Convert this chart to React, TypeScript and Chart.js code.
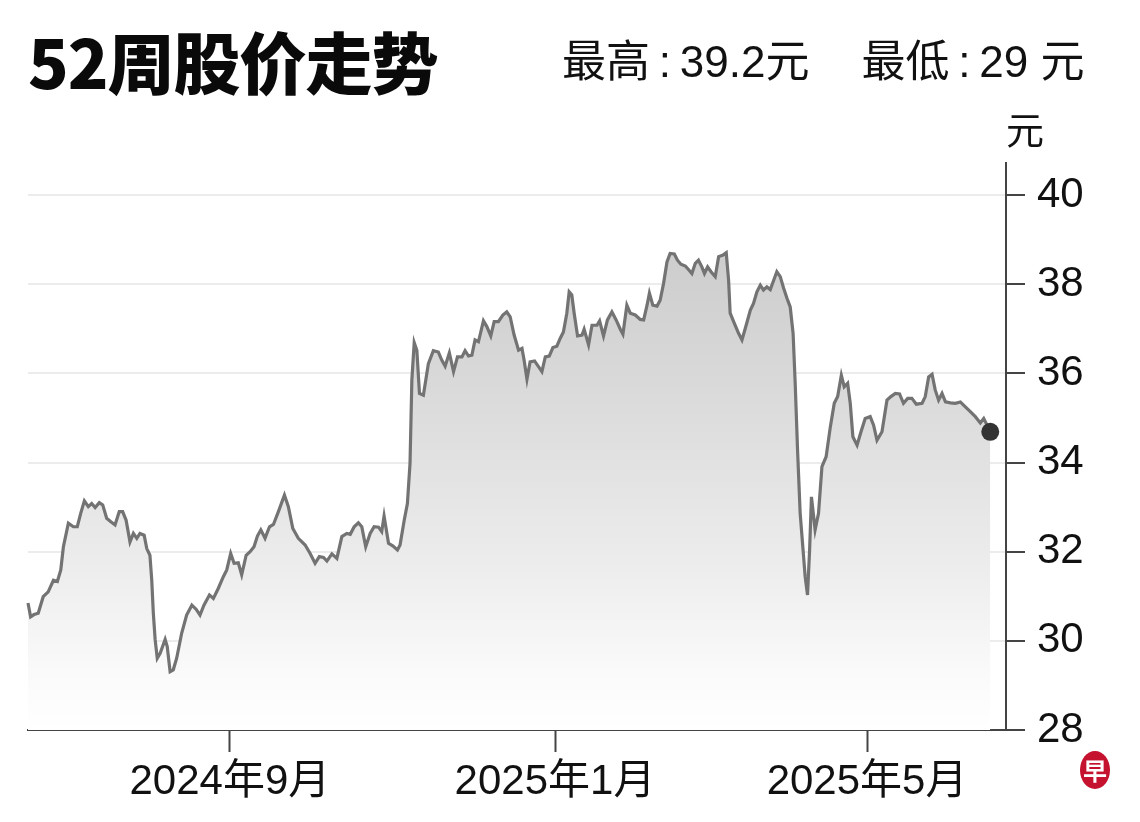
import React, { useEffect, useRef } from "react";
import { Chart, registerables } from "chart.js";

Chart.register(...registerables);

// Days since 2024-06-16 (trading samples) and closing prices (元)
const dayOffsets = [
  0, 1.0, 2.3, 3.9, 5.8, 7.7, 9.7, 11.2, 12.5, 13.5, 15.4, 17.3, 18.8, 20.1, 21.5, 23.0, 24.3, 25.6, 27.2, 28.5,
  30.0, 31.6, 33.2, 34.8, 36.1, 37.4, 38.9, 40.2, 41.5, 42.7, 44.3, 45.3, 46.5, 47.2, 47.8, 48.5, 49.3, 50.4, 52.3, 53.1,
  54.2, 55.4, 56.7, 58.6, 60.5, 62.5, 64.1, 65.6, 67.1, 69.2, 70.7, 72.6,
  74.5, 75.8, 77.3, 78.6, 80.2, 81.5, 83.2, 84.7, 86.2, 87.5, 88.8, 90.4, 92.1, 93.6, 95.5, 97.8, 99.3, 101.0, 103.1,
  105.7, 107.6, 109.5, 111.1, 112.7, 114.0, 115.9, 117.8, 119.7, 121.6, 122.9, 124.4, 126.0, 127.3, 128.8, 130.5, 132.0,
  133.7, 134.9, 135.8, 137.5, 139.1, 140.9, 141.9, 143.5, 144.7, 145.7, 146.4, 147.3, 148.3, 149.3,
  150.8, 152.7, 154.6, 156.5, 157.8, 159.1, 160.7, 162.3, 163.8, 165.5, 166.7, 168.0, 169.3, 170.5, 171.8, 173.7, 175.0,
  176.5, 177.8, 179.4, 181.1, 182.6, 183.9, 185.4, 187.1, 188.4, 189.2, 190.3, 191.5, 193.2, 194.7, 196.0, 197.3, 198.8,
  200.2, 201.7, 203.0, 204.2, 205.5, 206.4, 207.4, 208.3, 209.6, 211.3, 212.1, 213.8, 215.1, 217.0, 218.0,
  219.5, 221.0, 222.7, 224.3, 225.9, 226.9, 228.4, 229.7, 231.6, 233.5, 234.8, 236.1, 237.0, 238.3, 239.9, 241.1, 242.4,
  243.7, 244.9, 246.5, 247.7, 249.0, 250.7, 251.9, 253.2, 254.5, 255.7, 257.0, 258.0, 259.2, 260.5, 262.1, 263.4, 264.9,
  266.3, 267.2, 267.8, 269.4, 271.0, 272.3, 273.9, 275.5, 276.7, 278.0, 279.3, 280.5, 281.8, 283.1, 284.4, 285.6, 286.9,
  288.2, 289.5, 290.7,
  291.8, 292.6, 293.5, 294.5, 295.6, 296.4, 297.3, 298.1, 298.8, 300.2, 301.5, 302.8, 304.4, 306.0, 307.5, 308.8, 310.2,
  311.3, 312.6, 313.6, 314.6, 316.2, 317.7, 319.3, 321.2, 322.5, 323.8, 325.7, 327.6, 329.1, 330.8, 332.4, 333.9, 335.5,
  337.1, 338.8, 341.0, 342.2, 343.5, 344.8, 346.0, 347.3, 348.6, 349.9, 351.8, 353.7, 355.6, 357.5, 359.4, 361.3, 363.2,
  364.5, 367.0,
];

const prices = [
  30.85, 30.54, 30.59, 30.62, 30.99, 31.10, 31.36, 31.33, 31.59, 32.11, 32.64, 32.56, 32.56, 32.86, 33.14, 33.01, 33.08, 32.99, 33.10, 33.05,
  32.75, 32.67, 32.60, 32.90, 32.90, 32.71, 32.22, 32.41, 32.30, 32.41, 32.37, 32.07, 31.92, 31.36, 30.62, 30.02, 29.61, 29.72, 30.03, 29.87,
  29.31, 29.35, 29.61, 30.17, 30.58, 30.80, 30.71, 30.58, 30.80, 31.03, 30.95, 31.18,
  31.44, 31.59, 31.96, 31.74, 31.75, 31.48, 31.92, 32.00, 32.11, 32.35, 32.49, 32.30, 32.56, 32.61, 32.90, 33.27, 33.01, 32.52, 32.30,
  32.15, 31.96, 31.74, 31.89, 31.87, 31.79, 31.95, 31.85, 32.34, 32.41, 32.39, 32.56, 32.65, 32.56, 32.11, 32.41, 32.56,
  32.55, 32.45, 32.80, 32.19, 32.13, 32.04, 32.15, 32.71, 33.08, 33.98, 35.85, 36.69, 36.52, 35.55,
  35.51, 36.22, 36.51, 36.48, 36.30, 36.16, 36.46, 36.04, 36.37, 36.37, 36.51, 36.39, 36.41, 36.75, 36.71, 37.18, 37.05,
  36.84, 37.16, 37.16, 37.31, 37.38, 37.27, 36.86, 36.52, 36.56, 36.30, 35.87, 36.26, 36.28, 36.15, 36.04, 36.37, 36.39,
  36.58, 36.61, 36.79, 36.93, 37.35, 37.83, 37.76, 37.35, 36.84, 36.86, 36.99, 36.64, 37.08, 37.08, 37.18,
  36.84, 37.20, 37.38, 37.20, 36.99, 36.88, 37.53, 37.35, 37.31, 37.21, 37.20, 37.53, 37.80, 37.53, 37.51, 37.64, 38.02,
  38.50, 38.69, 38.68, 38.54, 38.45, 38.41, 38.33, 38.24, 38.47, 38.54, 38.39, 38.24, 38.39, 38.28, 38.17, 38.62, 38.65,
  38.71, 38.09, 37.35, 37.12, 36.90, 36.75, 37.08, 37.42, 37.57, 37.83, 37.98, 37.87, 37.94, 37.88, 38.09, 38.28, 38.17,
  37.91, 37.68, 37.49,
  36.90, 35.78, 34.28, 32.86, 32.04, 31.44, 31.03, 32.04, 33.23, 32.49, 32.86, 33.91, 34.13, 34.80, 35.33, 35.48, 35.96,
  35.70, 35.78, 35.33, 34.58, 34.39, 34.69, 34.99, 35.03, 34.84, 34.50, 34.69, 35.40, 35.48, 35.55, 35.54, 35.33, 35.44,
  35.44, 35.31, 35.33, 35.48, 35.92, 35.98, 35.63, 35.40, 35.55, 35.36, 35.34, 35.33, 35.36, 35.25, 35.14, 35.03, 34.89,
  34.99, 34.69,
];

const xTickDays = [77, 201, 320];
const xTickLabels = ["2024年9月", "2025年1月", "2025年5月"];
const yTickValues = [28, 30, 32, 34, 36, 38, 40];

const titleText = "52周股价走势";
const highText = "最高\u2009:\u200939.2元";
const lowText = "最低\u2009:\u200929 元";
const unitText = "元";

const LABEL_FONT = '"Liberation Sans", Arial, "Noto Sans CJK SC", sans-serif';

export default function App() {
  const canvasRef = useRef<HTMLCanvasElement | null>(null);

  useEffect(() => {
    const canvas = canvasRef.current;
    if (!canvas) return;
    const points = dayOffsets.map((d, i) => ({ x: d, y: prices[i] }));
    const lastIndex = points.length - 1;

    const chart = new Chart(canvas, {
      type: "line",
      data: {
        datasets: [
          {
            data: points,
            borderColor: "#737373",
            borderWidth: 3.2,
            tension: 0,
            fill: "start",
            backgroundColor: (ctx: any) => {
              const c = ctx.chart;
              const area = c.chartArea;
              if (!area) return "rgba(0,0,0,0)";
              const g = c.ctx.createLinearGradient(0, area.top, 0, area.bottom);
              g.addColorStop(0, "#c6c6c6");
              g.addColorStop(0.2, "#cfcfcf");
              g.addColorStop(0.4, "#dadada");
              g.addColorStop(0.7, "#ececec");
              g.addColorStop(0.9, "#fafafa");
              g.addColorStop(1, "#ffffff");
              return g;
            },
            pointRadius: (ctx: any) => (ctx.dataIndex === lastIndex ? 9 : 0),
            pointHoverRadius: 0,
            pointBackgroundColor: "#333333",
            pointBorderWidth: 0,
            clip: false as any,
          } as any,
        ],
      },
      options: {
        animation: false,
        responsive: false,
        devicePixelRatio: 1,
        events: [],
        layout: { padding: { left: 28, top: 163, right: 0, bottom: 0 } },
        plugins: { legend: { display: false }, tooltip: { enabled: false } },
        scales: {
          x: {
            type: "linear",
            min: 0,
            max: 373,
            afterBuildTicks: (s: any) => {
              s.ticks = xTickDays.map((v) => ({ value: v }));
            },
            afterFit: (s: any) => {
              s.height = 92;
            },
            ticks: {
              autoSkip: false,
              maxRotation: 0,
              padding: 5,
              color: "#111",
              font: { family: LABEL_FONT, size: 42 },
              callback: (_v: any, i: number) => xTickLabels[i],
            },
            grid: {
              drawOnChartArea: false,
              drawTicks: true,
              tickLength: 22,
              tickColor: "#444",
              tickWidth: 2,
            } as any,
            border: { display: true, color: "#444", width: 2 },
          },
          y: {
            type: "linear",
            position: "right",
            min: 28,
            max: 40.72,
            afterBuildTicks: (s: any) => {
              s.ticks = yTickValues.map((v) => ({ value: v }));
            },
            afterFit: (s: any) => {
              s.width = 134;
            },
            ticks: {
              padding: 12,
              color: "#111",
              font: { family: LABEL_FONT, size: 42 },
              callback: (v: any) => String(v),
            },
            grid: {
              color: "#ececec",
              lineWidth: 2,
              drawTicks: true,
              tickLength: 19,
              tickColor: "#444",
              tickWidth: 2,
            } as any,
            border: { display: true, color: "#444", width: 2 },
          },
        },
      },
    });

    return () => chart.destroy();
  }, []);

  return (
    <div
      style={{
        position: "fixed",
        left: 0,
        top: 0,
        width: 1140,
        height: 822,
        background: "#ffffff",
        overflow: "hidden",
      }}
    >
      <canvas
        ref={canvasRef}
        width={1140}
        height={822}
        style={{ position: "absolute", left: 0, top: 0, width: 1140, height: 822 }}
      />
      <div
        style={{
          position: "absolute",
          left: 28,
          top: 20,
          fontFamily: '"Noto Sans CJK SC", sans-serif',
          fontWeight: 900,
          fontSize: 67,
          lineHeight: "80px",
          color: "#0a0a0a",
          whiteSpace: "nowrap",
          letterSpacing: -1,
        }}
      >
        {titleText}
      </div>
      <div
        style={{
          position: "absolute",
          left: 562,
          top: 34,
          fontFamily: LABEL_FONT,
          fontSize: 44,
          lineHeight: "56px",
          color: "#111",
          whiteSpace: "nowrap",
        }}
      >
        <span>{highText}</span>
        <span style={{ marginLeft: 52 }}>{lowText}</span>
      </div>
      <div
        style={{
          position: "absolute",
          left: 1006,
          top: 104,
          fontFamily: '"Noto Sans CJK SC", sans-serif',
          fontSize: 38,
          lineHeight: "48px",
          color: "#111",
        }}
      >
        {unitText}
      </div>
      <div
        style={{
          position: "absolute",
          left: 1080,
          top: 751,
          width: 30,
          height: 38,
          borderRadius: "50%",
          background: "#c4122f",
          color: "#ffffff",
          fontFamily: '"Noto Sans CJK SC", sans-serif',
          fontWeight: 700,
          fontSize: 24,
          lineHeight: "38px",
          textAlign: "center",
        }}
      >
        早
      </div>
    </div>
  );
}
